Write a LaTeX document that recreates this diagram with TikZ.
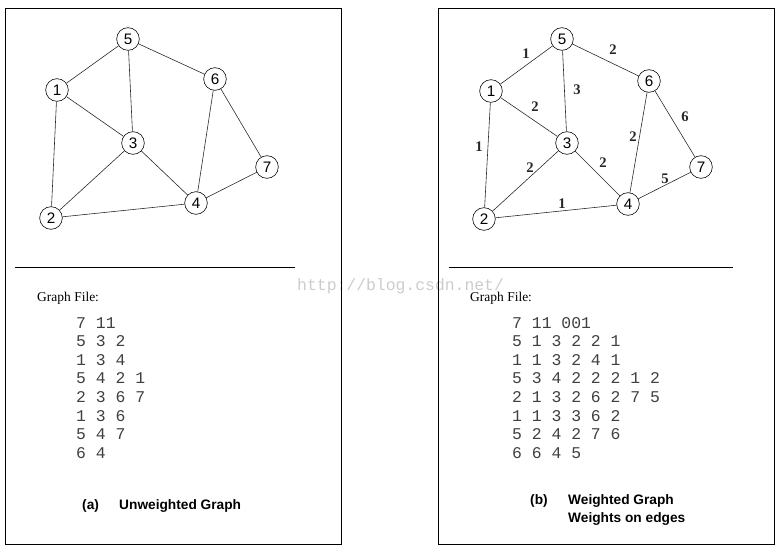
\documentclass[tikz,border=0pt]{standalone}
\usepackage{fontspec}
\setmainfont{Liberation Serif}
\setsansfont{Liberation Sans}
\setmonofont{Liberation Mono}
\tikzset{
  vertex/.style={circle, draw, fill=white, line width=0.5pt, minimum size=0.68cm, inner sep=0pt, font=\sffamily\fontsize{13}{13}\selectfont},
  edge/.style={line width=0.5pt, black!85},
  weight/.style={inner sep=0pt, font=\bfseries\fontsize{12.5}{12.5}\selectfont},
  codeline/.style={anchor=base west, inner sep=0pt, text=black!75, font=\ttfamily\fontsize{14}{14}\selectfont},
  caption/.style={anchor=base west, inner sep=0pt, font=\sffamily\bfseries\fontsize{11.7}{11.7}\selectfont},
  heading/.style={anchor=base west, inner sep=0pt, font=\fontsize{11.5}{11.5}\selectfont}
}
\begin{document}
\begin{tikzpicture}[x=0.03cm, y=-0.03cm]
  \useasboundingbox (0,0) rectangle (782,552);
  \node[anchor=base west, inner sep=0pt, text=black!20, font=\ttfamily\fontsize{14}{14}\selectfont] (mark) at (297,290.5) {http://blog.csdn.net/};

  % (a) unweighted
  \draw[line width=0.8pt] (5,8) rectangle (341,544);
  \node[vertex] (a1) at (57,90) {1};
  \node[vertex] (a2) at (51,218) {2};
  \node[vertex] (a3) at (133,143) {3};
  \node[vertex] (a4) at (196,203) {4};
  \node[vertex] (a5) at (128,39) {5};
  \node[vertex] (a6) at (215,79) {6};
  \node[vertex] (a7) at (267,167) {7};
  \foreach \u/\v in {1/5,5/6,5/3,1/3,1/2,3/2,3/4,6/4,6/7,4/7,2/4}
    \draw[edge] (a\u) -- (a\v);
  \draw[line width=0.6pt] (15,267) -- (295,267);
  \node[heading] (fa) at (37,301.5) {Graph File:};
  \foreach \line [count=\i] in {7 11, 5 3 2, 1 3 4, 5 4 2 1, 2 3 6 7, 1 3 6, 5 4 7, 6 4}
    \node[codeline] at (76,{328+18.6*(\i-1)}) {\line};
  \node[caption] (ca) at (82,509.6) {(a)};
  \node[caption] (ta) at (119,509.6) {Unweighted Graph};

  % (b) weighted
  \draw[line width=0.8pt] (438,8) rectangle (774,544);
  \node[vertex] (b1) at (491,91) {1};
  \node[vertex] (b2) at (484,219) {2};
  \node[vertex] (b3) at (567,143) {3};
  \node[vertex] (b4) at (628,204) {4};
  \node[vertex] (b5) at (562,39) {5};
  \node[vertex] (b6) at (649,81) {6};
  \node[vertex] (b7) at (701,167) {7};
  \foreach \u/\v/\w/\dx/\dy in {1/5/1/-0.5/-11, 5/6/2/7.5/-10, 5/3/3/12.5/-1, 1/3/2/6/-10,
      1/2/1/-8.5/-8, 3/2/2/4.5/-13, 3/4/2/5.5/-10.5, 6/4/2/-5.5/-5.5,
      6/7/6/10/-7, 4/7/5/0.5/-6.5, 2/4/1/6/-7.5}
    \draw[edge] (b\u) -- node[weight, shift={(\dx,\dy)}] {\w} (b\v);
  \draw[line width=0.6pt] (449,267) -- (733,267);
  \node[heading] (fb) at (470,301.5) {Graph File:};
  \foreach \line [count=\i] in {7 11 001, 5 1 3 2 2 1, 1 1 3 2 4 1, 5 3 4 2 2 2 1 2,
      2 1 3 2 6 2 7 5, 1 1 3 3 6 2, 5 2 4 2 7 6, 6 6 4 5}
    \node[codeline] at (512,{328+18.6*(\i-1)}) {\line};
  \node[caption] (cb) at (530,504.6) {(b)};
  \node[caption] (tb) at (568,504.6) {Weighted Graph};
  \node[caption] (tb2) at (568,522.6) {Weights on edges};
\end{tikzpicture}
\end{document}
